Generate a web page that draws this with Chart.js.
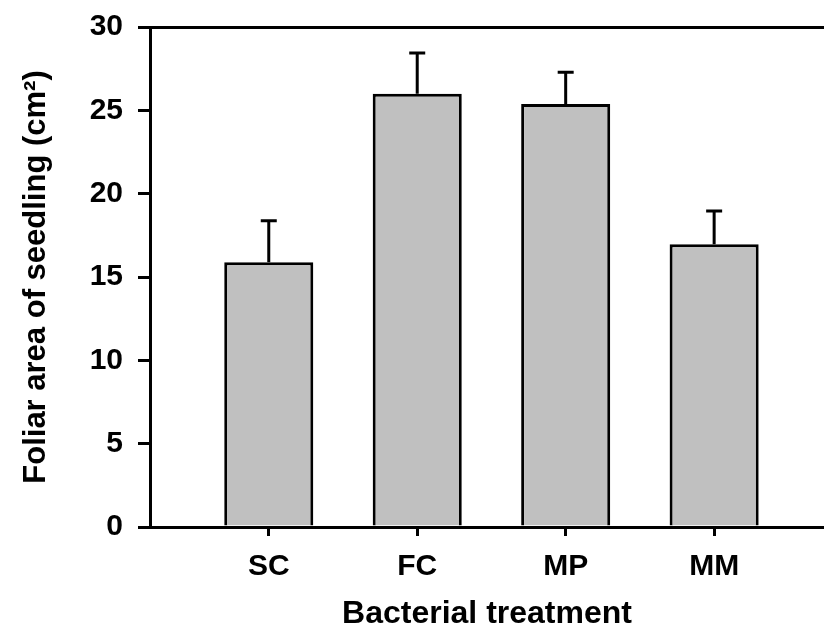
<!DOCTYPE html>
<html>
<head>
<meta charset="utf-8">
<script src="https://cdn.jsdelivr.net/npm/chart.js@4.4.1/dist/chart.umd.min.js"></script>
<style>
  html, body { margin: 0; padding: 0; background: #fff; }
  #wrap { width: 824px; height: 630px; }
</style>
</head>
<body>
<div id="wrap"><canvas id="foliarChart"></canvas></div>
<script>
// Data
var categories = ['SC', 'FC', 'MP', 'MM'];
var positions = [1, 2, 3, 4];
var meanArea = [15.88, 26.0, 25.38, 16.96];
var errUpper = [2.5, 2.44, 1.9, 2.0];
var yTicks = [0, 5, 10, 15, 20, 25, 30];

var FONT = "'Liberation Sans', Arial, sans-serif";

// Error bar di atas tiap batang
var errorBarPlugin = {
    id: 'errorBars',
    afterDatasetsDraw: function (chart) {
        const ctx = chart.ctx;
        const xs = chart.scales.x;
        const ys = chart.scales.y;
        ctx.save();
        ctx.strokeStyle = '#000';
        ctx.lineWidth = 3;
        positions.forEach((p, i) => {
            const x = xs.getPixelForValue(p);
            const yTop = ys.getPixelForValue(meanArea[i]);
            const yErr = ys.getPixelForValue(meanArea[i] + errUpper[i]);
            ctx.beginPath();
            ctx.moveTo(x, yTop);
            ctx.lineTo(x, yErr);
            ctx.moveTo(x - 8, yErr);
            ctx.lineTo(x + 8, yErr);
            ctx.stroke();
        });
        ctx.restore();
    }
};

var ctx = document.getElementById('foliarChart').getContext('2d');
new Chart(ctx, {
    type: 'bar',
    data: {
        datasets: [{
            data: positions.map((p, i) => ({ x: p, y: meanArea[i] })),
            backgroundColor: '#c0c0c0',
            borderColor: '#000',
            borderWidth: 3,
            barPercentage: 0.6,
            categoryPercentage: 1.0
        }]
    },
    options: {
        responsive: true,
        maintainAspectRatio: false,
        animation: false,
        layout: { padding: { top: 27, right: 0, left: 0, bottom: 0 } },
        plugins: {
            legend: { display: false },
            tooltip: { enabled: false }
        },
        scales: {
            x: {
                type: 'linear',
                min: 0.2,
                max: 4.74,
                offset: false,
                afterBuildTicks: s => { s.ticks = positions.map(v => ({ value: v })); },
                afterFit: s => { s.height = 103; },
                ticks: {
                    callback: (v) => categories[positions.indexOf(v)] || '',
                    color: '#000',
                    font: { family: FONT, size: 30, weight: 'bold' },
                    padding: 13,
                    maxRotation: 0
                },
                grid: {
                    offset: false,
                    drawOnChartArea: false,
                    tickLength: 9,
                    tickColor: '#000',
                    tickWidth: 3
                },
                border: { color: '#000', width: 3 },
                title: {
                    display: true,
                    text: 'Bacterial treatment',
                    color: '#000',
                    font: { family: FONT, size: 32, weight: 'bold', lineHeight: 1 },
                    padding: { top: 0, bottom: 0 }
                }
            },
            y: {
                min: 0,
                max: 30,
                afterBuildTicks: s => { s.ticks = yTicks.map(v => ({ value: v })); },
                afterFit: s => { s.width = 150; },
                ticks: {
                    color: '#000',
                    font: { family: FONT, size: 30, weight: 'bold', lineHeight: 0.8 },
                    padding: 15
                },
                grid: {
                    // hanya garis atas (30) yang terlihat
                    color: c => (c.tick && c.tick.value === 30) ? '#000' : 'rgba(0,0,0,0)',
                    lineWidth: 3,
                    tickLength: 12,
                    tickColor: '#000',
                    tickWidth: 3
                },
                border: { color: '#000', width: 3 },
                title: {
                    display: true,
                    text: 'Foliar area of seedling (cm²)',
                    color: '#000',
                    font: { family: FONT, size: 31, weight: 'bold', lineHeight: 1 },
                    padding: { top: 21, bottom: 0 }
                }
            }
        }
    },
    plugins: [errorBarPlugin]
});
</script>
</body>
</html>
